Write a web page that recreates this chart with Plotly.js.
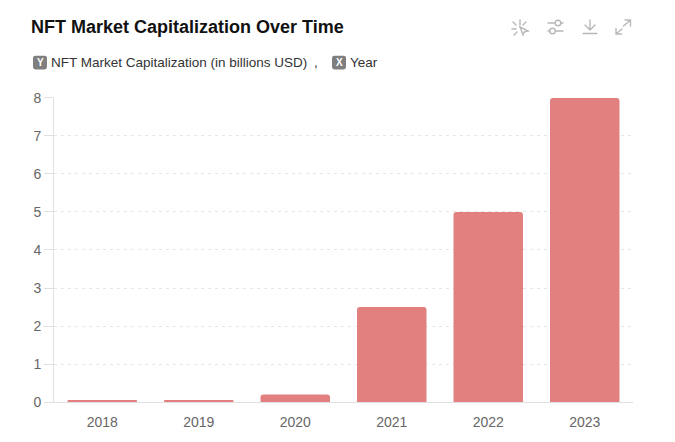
<!DOCTYPE html>
<html><head><meta charset="utf-8">
<script src="https://cdn.plot.ly/plotly-3.0.1.min.js"></script>
<style>html,body{margin:0;padding:0;background:#fff;overflow:hidden}#c{position:absolute;left:0;top:0;width:675px;height:442px}
#icons{position:absolute;left:0;top:0;pointer-events:none}</style></head>
<body><div id="c"></div>
<svg id="icons" width="675" height="60" fill="none" stroke="#b8b8b8" stroke-width="1.4" stroke-linecap="round">
<g><path d="M520 20v5M513 22l3 3M526 22l-3 3M512 29h4M514 35l3-3"/><path d="M520 27l8 4-4 1-1 3z"/></g>
<g><path d="M548 23h7M561 23h2M548 31h2M556 31h7"/><circle cx="558" cy="23" r="2.8"/><circle cx="552.5" cy="31" r="2.8"/></g>
<g><path d="M590 20v10M585 25l5 5 5-5M583 33.5h14"/></g>
<g><path d="M630.5 20l-7 6M625 20h5.5v6M616 34l6-5M616 28.5v5.5h5.5"/></g>
</svg>
<script>
const categories = ["2018","2019","2020","2021","2022","2023"];
const marketCap = [0.03,0.05,0.2,2.5,5,8];
const yTicks = [0,1,2,3,4,5,6,7,8];
const chartTitle = "NFT Market Capitalization Over Time";
const yName = "NFT Market Capitalization (in billions USD)";
const xName = "Year";
const W = 675, H = 442;
const FONT = "Arial, Liberation Sans, sans-serif";
const PL = 54, PR = 633, PT = 96.5, PB = 402.5;
const px = x => (x-PL)/(PR-PL), py = y => (PB-y)/(PB-PT);
const chip = (t, x) => ({text:"<b>"+t+"</b>", xref:"paper", yref:"paper", x:px(x), y:py(62), xanchor:"center", yanchor:"middle", showarrow:false,
  font:{family:FONT, size:10, color:"#fff"}});
const label = (t, x) => ({text:t, xref:"paper", yref:"paper", x:px(x), y:py(62), xanchor:"left", yanchor:"middle", showarrow:false,
  font:{family:FONT, size:13.5, color:"#333"}, borderpad:0});
const chipBox = cx => {
  const l=cx-7, r=cx+7, t=55, b=69, c=2.5;
  const P=(a,b)=>px(a)+","+py(b);
  return {type:"path", xref:"paper", yref:"paper", fillcolor:"#7f7f7f", line:{width:0}, layer:"above",
    path:"M"+P(l+c,t)+" L"+P(r-c,t)+" Q"+P(r,t)+" "+P(r,t+c)+" L"+P(r,b-c)+" Q"+P(r,b)+" "+P(r-c,b)+
         " L"+P(l+c,b)+" Q"+P(l,b)+" "+P(l,b-c)+" L"+P(l,t+c)+" Q"+P(l,t)+" "+P(l+c,t)+" Z"};
};
Plotly.newPlot("c",[{
  type:"bar", x:categories, y:marketCap, width:0.72,
  marker:{color:"#e27f7f", cornerradius:3, line:{width:0}}, hoverinfo:"x+y"
}],{
  width:W, height:H, paper_bgcolor:"#fff", plot_bgcolor:"#fff", showlegend:false,
  margin:{l:PL, r:W-PR, t:PT, b:H-PB, pad:0},
  title:{text:"<b>"+chartTitle+"</b>", x:31/W, xanchor:"left", xref:"container", y:1-27/H, yanchor:"middle",
    font:{family:FONT, size:18, color:"#111"}},
  xaxis:{type:"category", tickmode:"array", tickvals:categories, ticktext:categories, showgrid:false,
    showline:true, linecolor:"#e0e0e0", linewidth:1, ticks:"", zeroline:false,
    tickfont:{family:FONT, size:14, color:"#666"}, ticklabelstandoff:7, fixedrange:true},
  yaxis:{range:[0,8.026], tickmode:"array", tickvals:yTicks, ticktext:yTicks.map(String), showgrid:true,
    gridcolor:"#e6e6e6", griddash:"3px,4px", gridwidth:1, zeroline:false, showline:true, linecolor:"#e0e0e0", linewidth:1,
    ticks:"outside", ticklen:9, tickcolor:"#e0e0e0", tickwidth:1,
    tickfont:{family:FONT, size:14, color:"#666"}, ticklabelstandoff:0, fixedrange:true},
  shapes:[chipBox(40), chipBox(339)],
  annotations:[chip("Y",40), label(yName,50), label(",",313), chip("X",339), label(xName,349)]
},{displayModeBar:false, responsive:false});
</script></body></html>
